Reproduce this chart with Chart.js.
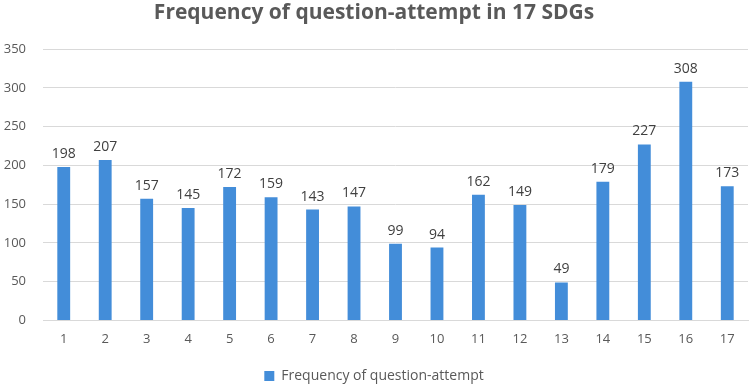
<!DOCTYPE html>
<html>
<head>
<meta charset="utf-8">
<script src="https://cdn.jsdelivr.net/npm/chart.js@4/dist/chart.umd.min.js"></script>
<style>
  html, body { margin: 0; padding: 0; background: #fff; }
  #wrap { width: 754px; height: 386px; }
</style>
</head>
<body>
<div id="wrap"><canvas id="chart" width="754" height="386"></canvas></div>
<script>
// values
const categories = ['1','2','3','4','5','6','7','8','9','10','11','12','13','14','15','16','17'];
const attempts = [198, 207, 157, 145, 172, 159, 143, 147, 99, 94, 162, 149, 49, 179, 227, 308, 173];
const yTicks = [0, 50, 100, 150, 200, 250, 300, 350];

const FONT = "'Open Sans', 'Liberation Sans', sans-serif";

// draws the number above each bar
const barLabels = {
    id: 'barLabels',
    afterDatasetsDraw(chart) {
        const ctx = chart.ctx;
        const meta = chart.getDatasetMeta(0);
        ctx.save();
        ctx.font = '14px ' + FONT;
        ctx.fillStyle = '#404040';
        ctx.textAlign = 'center';
        ctx.textBaseline = 'bottom';
        meta.data.forEach((bar, i) => {
            ctx.fillText(String(attempts[i]), bar.x, bar.y - 6);
        });
        ctx.restore();
    }
};

new Chart(document.getElementById('chart').getContext('2d'), {
    type: 'bar',
    data: {
        labels: categories,
        datasets: [{
            label: 'Frequency of question-attempt',
            data: attempts,
            backgroundColor: '#438dd9',
            barPercentage: 0.31,
            categoryPercentage: 1
        }]
    },
    options: {
        responsive: false,
        animation: false,
        layout: { padding: { left: 0, right: 6, top: 0, bottom: -7 } },
        scales: {
            x: {
                grid: { display: false, drawTicks: false },
                border: { color: '#d9d9d9' },
                afterFit(axis) { axis.height += 11; },
                ticks: { color: '#595959', font: { family: FONT, size: 13 }, padding: 11 }
            },
            y: {
                min: 0,
                max: 350,
                afterBuildTicks(axis) { axis.ticks = yTicks.map(v => ({ value: v })); },
                afterFit(axis) { axis.width = 43; },
                grid: { color: '#d9d9d9', drawTicks: false },
                border: { display: false },
                ticks: { color: '#595959', font: { family: FONT, size: 13 }, padding: 17 }
            }
        },
        plugins: {
            title: {
                display: true,
                text: 'Frequency of question-attempt in 17 SDGs',
                color: '#595959',
                font: { family: FONT, size: 21, weight: 'bold' },
                padding: { top: 0, bottom: 24 }
            },
            legend: {
                position: 'bottom',
                labels: {
                    color: '#595959',
                    font: { family: FONT, size: 14 },
                    boxWidth: 10,
                    boxHeight: 10,
                    padding: 0
                }
            },
            tooltip: { enabled: false }
        }
    },
    plugins: [barLabels]
});
</script>
</body>
</html>
